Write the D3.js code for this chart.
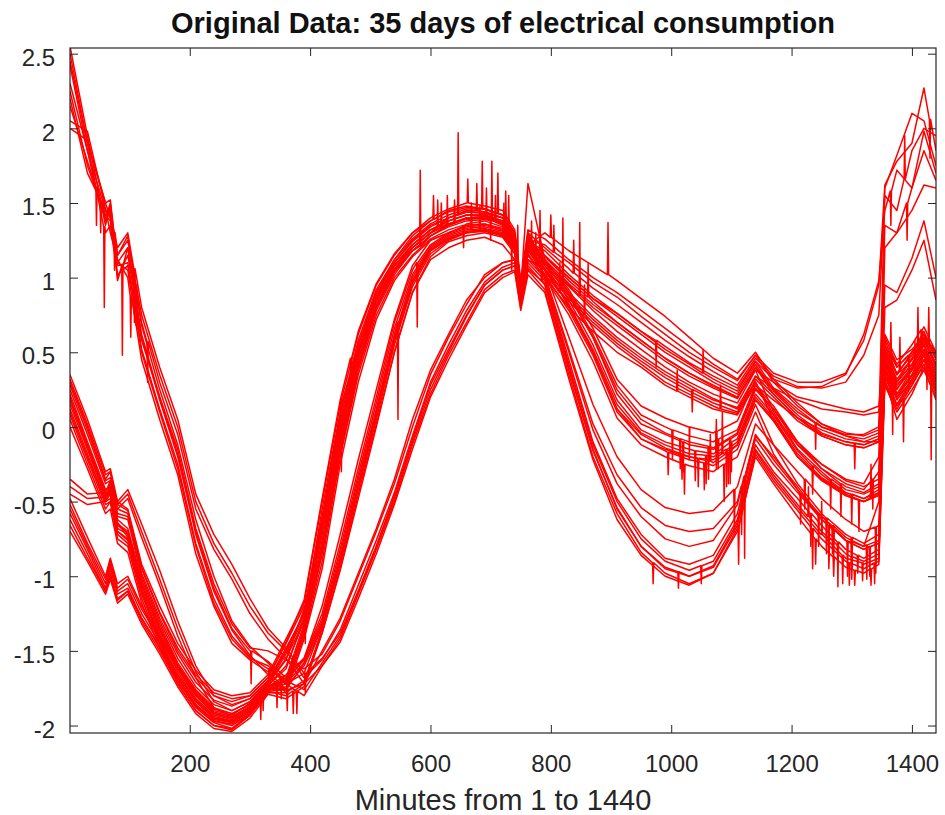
<!DOCTYPE html>
<html><head><meta charset="utf-8">
<script src="https://cdn.jsdelivr.net/npm/d3@7"></script>
<style>body{margin:0;background:#fff}svg{display:block}</style>
</head><body>
<svg id="chart" width="945" height="815"></svg>
<script>
const titleText = "Original Data: 35 days of electrical consumption";
const xLabelText = "Minutes from 1 to 1440";
const xTicks = [200, 400, 600, 800, 1000, 1200, 1400];
const yTicks = [-2, -1.5, -1, -0.5, 0, 0.5, 1, 1.5, 2, 2.5];
const yTickLabels = ["-2", "-1.5", "-1", "-0.5", "0", "0.5", "1", "1.5", "2", "2.5"];
const minutes = [1,30,60,68,80,97,120,150,180,210,240,270,300,330,360,390,420,450,480,510,540,570,600,630,660,690,720,740,750,762,790,830,870,910,950,990,1030,1070,1110,1140,1170,1210,1250,1290,1320,1345,1355,1375,1400,1420,1440];

const day01 = [2.42,1.85,1.38,1.45,1.0,1.15,0.6,0.18,-0.2,-0.7,-1.08,-1.35,-1.5,-1.57,-1.68, -1.55,-1.2,-0.72,-0.22,0.25,0.72,1.08,1.25,1.3,1.35,1.36,1.32,1.22,0.9,1.22, 1.1,0.88,0.6,0.22,0.02,-0.05,-0.12,-0.15,-0.05,0.25, 0.12,-0.1,-0.28,-0.38,-0.42,-0.3, 1.2,1.3,1.45,1.62,1.6];
const day02 = [2.25,1.75,1.42,1.38,1.08,1.1,0.52,0.12,-0.25,-0.78,-1.15,-1.4,-1.54,-1.62,-1.72, -1.65,-1.33,-0.9,-0.4,0.08,0.58,0.97,1.18,1.26,1.3,1.32,1.28,1.18,0.85,1.18, 1.05,0.82,0.5,0.12,-0.05,-0.14,-0.2,-0.22,-0.12,0.18, 0.05,-0.2,-0.35,-0.45,-0.5,-0.44, 0.45,0.22,0.38,0.52,0.3];
const day03 = [2.5,1.9,1.3,1.35,1.02,1.08,0.58,0.2,-0.18,-0.72,-1.1,-1.36,-1.53,-1.66,-1.78, -1.7,-1.38,-0.95,-0.45,0.02,0.5,0.9,1.12,1.2,1.25,1.27,1.22,1.12,0.82,1.12, 1.05,0.6,0.15,-0.2,-0.42,-0.54,-0.58,-0.56,-0.4,0.02, -0.12,-0.3,-0.48,-0.62,-0.7,-0.66, 0.35,0.15,0.3,0.45,0.25];
const day04 = [2.2,1.7,1.45,1.4,1.1,1.05,0.5,0.1,-0.28,-0.8,-1.18,-1.42,-1.55,-1.6,-1.7, -1.76,-1.58,-1.4,-1.1,-0.8,-0.48,-0.1,0.25,0.5,0.74,0.95,1.05,1.08,0.82,1.08, 0.95,0.38,-0.15,-0.55,-0.8,-0.94,-1.0,-0.94,-0.66,-0.15, -0.32,-0.52,-0.7,-0.85,-0.9,-0.85, 0.5,0.35,0.45,0.6,0.42];
const day05 = [2.55,1.95,1.35,1.48,0.98,1.2,0.62,0.2,-0.15,-0.68,-1.05,-1.32,-1.48,-1.5,-1.56, -1.62,-1.52,-1.3,-1.0,-0.7,-0.38,0.0,0.35,0.6,0.82,1.02,1.1,1.12,0.88,1.12, 1.0,0.45,-0.1,-0.48,-0.72,-0.88,-0.92,-0.86,-0.58,-0.08, -0.25,-0.44,-0.62,-0.76,-0.8,-0.5, 0.8,0.85,1.05,1.25,0.85];
const day06 = [2.0,1.92,1.5,1.52,1.15,1.28,0.68,0.25,-0.12,-0.62,-1.0,-1.3,-1.47,-1.58,-1.72, -1.8,-1.6,-1.42,-1.12,-0.82,-0.5,-0.12,0.22,0.48,0.7,0.92,1.02,1.05,0.8,1.05, 0.92,0.35,-0.2,-0.58,-0.84,-0.98,-1.05,-0.98,-0.68,-0.18, -0.36,-0.56,-0.75,-0.9,-0.95,-0.9, 0.28,0.1,0.25,0.38,0.2];
const day07 = [2.05,1.98,1.46,1.3,1.12,1.0,0.45,0.05,-0.32,-0.85,-1.2,-1.45,-1.56,-1.64,-1.76, -1.72,-1.5,-1.28,-0.98,-0.68,-0.35,0.05,0.38,0.62,0.85,1.0,1.1,1.12,0.9,1.15, 1.0,0.5,-0.02,-0.38,-0.6,-0.75,-0.8,-0.76,-0.52,-0.05, -0.22,-0.42,-0.6,-0.74,-0.8,-0.76, 0.55,0.4,0.5,0.62,0.48];
const day08 = [2.3,1.85,1.45,1.45,1.15,1.25,0.75,0.35,0.0,-0.5,-0.78,-0.98,-1.2,-1.38,-1.5, -1.68,-1.56,-1.36,-1.06,-0.76,-0.44,-0.06,0.3,0.55,0.78,0.97,1.07,1.1,0.86,1.1, 0.98,0.42,-0.12,-0.5,-0.75,-0.9,-0.96,-0.9,-0.62,-0.12, -0.3,-0.48,-0.66,-0.82,-0.88,-0.82, 0.4,0.2,0.35,0.5,0.3];
const day09 = [2.45,1.9,1.5,1.4,1.2,1.3,0.8,0.4,0.05,-0.45,-0.72,-0.92,-1.15,-1.35,-1.48, -1.65,-1.55,-1.38,-1.1,-0.8,-0.46,-0.08,0.28,0.52,0.75,0.95,1.05,1.08,0.84,1.06, 0.96,0.4,-0.16,-0.54,-0.8,-0.95,-1.0,-0.93,-0.64,-0.16, -0.34,-0.54,-0.72,-0.88,-0.92,-0.88, 0.32,0.05,0.22,0.4,0.18];
const day10 = [2.15,1.78,1.4,1.5,1.1,1.2,0.7,0.3,-0.05,-0.55,-0.82,-1.02,-1.25,-1.42,-1.55, -1.72,-1.6,-1.44,-1.15,-0.85,-0.52,-0.15,0.2,0.45,0.68,0.9,1.0,1.04,0.78,1.02, 0.9,0.32,-0.22,-0.62,-0.86,-1.0,-1.06,-0.98,-0.7,-0.2, -0.38,-0.6,-0.8,-0.94,-0.98,-0.92, 0.42,0.28,0.4,0.55,0.38];
const day11 = [0.18,-0.13,-0.45,-0.42,-0.65,-0.7,-1.05,-1.35,-1.6,-1.78,-1.9,-1.93,-1.85,-1.72,-1.55, -1.3,-0.72,-0.05,0.48,0.85,1.08,1.22,1.32,1.38,1.42,1.42,1.38,1.25,0.9,1.25, 1.22,1.1,0.97,0.87,0.74,0.62,0.5,0.4,0.31,0.48, 0.36,0.3,0.3,0.36,0.58,0.95, 1.62,1.78,1.9,2.27,1.85];
const day12 = [0.3,0.0,-0.35,-0.3,-0.55,-0.58,-0.95,-1.25,-1.5,-1.68,-1.8,-1.84,-1.8,-1.68,-1.45, -1.2,-0.55,0.1,0.58,0.92,1.12,1.28,1.38,1.45,1.48,1.46,1.42,1.3,0.95,1.3, 1.2,1.06,0.93,0.82,0.7,0.58,0.47,0.37,0.28,0.46, 0.34,0.27,0.26,0.3,0.48,0.75, 1.55,1.45,1.85,2.0,1.95];
const day13 = [0.1,-0.2,-0.5,-0.45,-0.7,-0.75,-1.1,-1.42,-1.66,-1.84,-1.95,-1.98,-1.9,-1.75,-1.7, -1.35,-0.8,-0.12,0.42,0.8,1.05,1.2,1.3,1.36,1.4,1.4,1.36,1.22,0.88,1.22, 1.14,1.0,0.86,0.76,0.64,0.54,0.43,0.34,0.26,0.44, 0.32,0.26,0.27,0.35,0.62,0.98, 1.45,1.72,1.6,1.98,1.7];
const day14 = [0.25,-0.05,-0.38,-0.36,-0.6,-0.62,-1.0,-1.3,-1.55,-1.74,-1.86,-1.9,-1.84,-1.71,-1.5, -1.25,-0.62,0.05,0.55,0.9,1.1,1.25,1.35,1.4,1.44,1.44,1.4,1.28,0.92,1.28, 1.1,0.94,0.78,0.64,0.52,0.4,0.3,0.22,0.16,0.38, 0.3,0.2,0.16,0.12,0.1,0.14, 0.6,0.42,0.55,0.67,0.5];
const day15 = [0.05,-0.25,-0.55,-0.5,-0.75,-0.8,-1.15,-1.45,-1.7,-1.88,-1.98,-2.02,-1.92,-1.76,-1.75, -1.4,-0.9,-0.2,0.35,0.75,1.0,1.15,1.26,1.32,1.36,1.38,1.34,1.2,0.86,1.2, 1.06,0.86,0.7,0.56,0.44,0.33,0.24,0.16,0.1,0.34, 0.26,0.18,0.12,0.1,0.08,0.1, 0.5,0.32,0.45,0.58,0.42];
const day16 = [0.22,-0.1,-0.42,-0.4,-0.62,-0.68,-1.02,-1.32,-1.58,-1.76,-1.88,-1.92,-1.86,-1.73,-1.62, -1.28,-0.68,0.0,0.5,0.86,1.08,1.2,1.3,1.36,1.4,1.4,1.36,1.24,0.88,1.24, 1.14,0.98,0.84,0.7,0.58,0.46,0.36,0.27,0.2,0.4, 0.25,0.1,0.0,-0.05,-0.05,0.0, 1.6,1.82,2.1,2.05,1.75];
const day17 = [0.35,0.05,-0.3,-0.28,-0.5,-0.55,-0.92,-1.2,-1.45,-1.63,-1.76,-1.8,-1.78,-1.66,-1.42, -1.18,-0.5,0.15,0.62,0.95,1.15,1.3,1.4,1.46,1.5,1.48,1.45,1.32,0.98,1.32, 1.26,1.12,1.0,0.9,0.78,0.66,0.54,0.42,0.32,0.48, 0.3,0.14,0.02,-0.06,-0.1,-0.1, 1.35,1.3,1.6,1.85,1.65];
const day18 = [0.15,-0.15,-0.48,-0.44,-0.68,-0.72,-1.08,-1.38,-1.62,-1.8,-1.92,-1.95,-1.88,-1.74,-1.68, -1.32,-0.76,-0.08,0.45,0.82,1.05,1.2,1.3,1.4,1.44,1.43,1.4,1.26,0.92,1.26, 1.15,1.0,0.86,0.74,0.62,0.5,0.4,0.3,0.22,0.42, 0.24,0.08,-0.04,-0.1,-0.12,-0.08, 0.38,0.18,0.32,0.48,0.28];
const day19 = [0.2,-0.12,-0.44,-0.46,-0.64,-0.74,-1.04,-1.34,-1.59,-1.77,-1.89,-1.92,-1.86,-1.72,-1.56, -1.22,-0.6,0.08,0.55,0.9,1.12,1.26,1.36,1.42,1.46,1.46,1.42,1.3,0.95,1.28, 1.05,0.88,0.72,0.58,0.46,0.35,0.26,0.18,0.13,0.34, 0.22,0.06,-0.06,-0.12,-0.14,-0.1, 0.42,0.25,0.4,0.55,0.35];
const day20 = [0.12,-0.18,-0.5,-0.48,-0.7,-0.76,-1.1,-1.4,-1.64,-1.83,-1.94,-1.97,-1.9,-1.76,-1.72, -1.38,-0.85,-0.18,0.38,0.78,1.02,1.18,1.28,1.34,1.38,1.39,1.35,1.22,0.88,1.22, 1.3,1.18,1.08,0.98,0.86,0.74,0.6,0.46,0.36,0.5, 0.32,0.16,0.02,-0.04,-0.06,-0.02, 0.55,0.35,0.5,0.62,0.45];
const day21 = [0.28,-0.02,-0.36,-0.34,-0.58,-0.6,-0.98,-1.28,-1.52,-1.71,-1.83,-1.87,-1.82,-1.7,-1.5, -1.24,-0.64,0.02,0.52,0.88,1.1,1.24,1.34,1.4,1.45,1.44,1.4,1.28,0.94,1.26, 1.0,0.8,0.64,0.5,0.4,0.28,0.2,0.12,0.08,0.28, 0.18,0.06,-0.02,-0.08,-0.1,-0.06, 0.3,0.12,0.28,0.42,0.22];
const day22 = [0.08,-0.22,-0.52,-0.5,-0.72,-0.78,-1.12,-1.43,-1.68,-1.86,-1.97,-2.0,-1.92,-1.77,-1.76, -1.34,-0.8,-0.1,0.42,0.8,1.04,1.18,1.28,1.35,1.4,1.4,1.36,1.24,0.9,1.24, 1.18,1.02,0.88,0.76,0.64,0.52,0.42,0.32,0.24,0.44, 0.26,0.12,0.0,-0.06,-0.08,-0.04, 0.48,0.3,0.42,0.58,0.4];
const day23 = [0.18,-0.14,-0.46,-0.43,-0.66,-0.71,-1.06,-1.36,-1.61,-1.79,-1.91,-1.94,-1.87,-1.73,-1.6, -1.3,-0.7,-0.02,0.5,0.86,1.08,1.22,1.32,1.38,1.42,1.41,1.38,1.25,0.92,1.63, 1.12,0.96,0.82,0.7,0.58,0.46,0.36,0.28,0.2,0.38, 0.1,-0.15,-0.3,-0.42,-0.45,-0.4, 0.35,0.2,0.3,0.45,0.32];
const day24 = [0.32,0.02,-0.32,-0.3,-0.52,-0.56,-0.94,-1.24,-1.48,-1.66,-1.78,-1.82,-1.8,-1.68,-1.44, -1.16,-0.48,0.18,0.64,0.96,1.16,1.3,1.38,1.44,1.47,1.46,1.42,1.3,0.96,1.3, 1.08,0.9,0.74,0.6,0.48,0.37,0.28,0.19,0.12,0.3, 0.05,-0.2,-0.35,-0.46,-0.5,-0.45, 0.45,0.28,0.38,0.52,0.36];
const day25 = [0.0,-0.28,-0.58,-0.55,-0.78,-0.84,-1.18,-1.48,-1.72,-1.9,-2.0,-2.03,-1.93,-1.78,-1.78, -1.42,-0.95,-0.25,0.3,0.72,0.98,1.14,1.25,1.3,1.35,1.36,1.33,1.2,0.86,1.2, 1.02,0.84,0.68,0.54,0.42,0.3,0.22,0.14,0.09,0.3, 0.08,-0.12,-0.25,-0.35,-0.38,-0.2, 0.95,0.9,1.13,1.38,1.0];
const day26 = [-0.4,-0.48,-0.47,-0.38,-0.52,-0.45,-0.7,-1.02,-1.35,-1.64,-1.84,-1.9,-1.84,-1.72,-1.52, -1.28,-0.7,-0.04,0.47,0.84,1.06,1.2,1.3,1.36,1.4,1.41,1.37,1.24,0.9,1.24, 1.1,0.95,0.8,0.68,0.56,0.44,0.34,0.26,0.19,0.4, 0.22,0.06,-0.05,-0.1,-0.12,-0.08, 0.62,0.45,0.52,0.6,0.5];
const day27 = [-0.35,-0.45,-0.44,-0.36,-0.5,-0.42,-0.65,-0.96,-1.3,-1.6,-1.8,-1.86,-1.82,-1.7,-1.48, -1.26,-0.66,0.0,0.5,0.86,1.08,1.22,1.32,1.38,1.42,1.42,1.38,1.26,0.92,1.25, 1.12,0.9,0.62,0.28,0.08,0.0,-0.06,-0.1,-0.02,0.28, 0.14,-0.1,-0.25,-0.36,-0.4,-0.35, 0.4,0.22,0.35,0.5,0.3];
const day28 = [-0.45,-0.52,-0.5,-0.4,-0.55,-0.48,-0.74,-1.06,-1.4,-1.68,-1.88,-1.94,-1.88,-1.74,-1.7, -1.36,-0.84,-0.15,0.4,0.8,1.04,1.18,1.28,1.35,1.39,1.4,1.36,1.22,0.88,1.22, 1.05,0.8,0.5,0.12,-0.08,-0.16,-0.22,-0.26,-0.15,0.15, -0.12,-0.38,-0.58,-0.72,-0.78,-0.72, 0.3,0.15,0.32,0.45,0.35];
const day29 = [-0.55,-0.8,-1.05,-0.92,-1.1,-1.05,-1.25,-1.45,-1.66,-1.84,-1.95,-1.97,-1.9,-1.75,-1.72, -1.58,-1.3,-0.85,-0.35,0.12,0.62,1.0,1.2,1.28,1.32,1.33,1.3,1.2,0.88,1.2, 1.08,0.85,0.55,0.18,-0.02,-0.1,-0.15,-0.18,-0.08,0.22, 0.08,-0.16,-0.32,-0.44,-0.48,-0.42, 0.5,0.3,0.46,0.6,0.4];
const day30 = [-0.62,-0.85,-1.1,-0.98,-1.15,-1.1,-1.3,-1.5,-1.72,-1.9,-2.0,-2.02,-1.93,-1.77,-1.8, -1.72,-1.35,-0.92,-0.42,0.05,0.55,0.94,1.16,1.25,1.3,1.31,1.28,1.18,0.86,1.18, 1.02,0.78,0.48,0.1,-0.08,-0.15,-0.2,-0.24,-0.12,0.18, 0.04,-0.2,-0.36,-0.46,-0.5,-0.46, 0.38,0.2,0.34,0.48,0.26];
const day31 = [-0.48,-0.74,-1.0,-0.88,-1.05,-1.0,-1.2,-1.4,-1.6,-1.8,-1.92,-1.95,-1.88,-1.74,-1.66, -1.55,-1.25,-0.78,-0.28,0.2,0.7,1.05,1.22,1.3,1.34,1.35,1.32,1.22,0.9,1.22, 1.1,0.88,0.6,0.25,0.05,-0.04,-0.1,-0.14,-0.04,0.26, 0.12,-0.12,-0.28,-0.4,-0.44,-0.38, 0.58,0.4,0.5,0.64,0.46];
const day32 = [-0.7,-0.9,-1.12,-1.02,-1.18,-1.12,-1.32,-1.52,-1.74,-1.92,-2.02,-2.04,-1.95,-1.79,-1.82, -1.74,-1.38,-0.96,-0.48,0.0,0.5,0.9,1.14,1.24,1.28,1.3,1.27,1.16,0.84,1.16, 1.0,0.75,0.44,0.06,-0.12,-0.2,-0.26,-0.3,-0.2,0.1, -0.18,-0.42,-0.62,-0.76,-0.82,-0.78, 0.34,0.14,0.28,0.42,0.24];
const day33 = [-0.58,-0.82,-1.08,-0.95,-1.12,-1.08,-1.28,-1.47,-1.68,-1.86,-1.96,-1.98,-1.91,-1.76,-1.74, -1.6,-1.34,-0.9,-0.4,0.08,0.58,0.96,1.18,1.26,1.3,1.32,1.29,1.19,0.87,1.19, 1.02,0.52,0.02,-0.32,-0.54,-0.66,-0.7,-0.68,-0.5,-0.06, -0.2,-0.4,-0.6,-0.76,-0.82,-0.78, 0.46,0.3,0.42,0.56,0.34];
const day34 = [-0.66,-0.88,-1.1,-1.0,-1.16,-1.1,-1.28,-1.48,-1.7,-1.87,-1.97,-1.99,-1.92,-1.76,-1.7, -1.56,-1.28,-0.82,-0.32,0.16,0.66,1.02,1.21,1.29,1.33,1.34,1.31,1.21,0.89,1.21, 1.12,0.92,0.66,0.32,0.14,0.06,0.0,-0.04,0.04,0.32, 0.2,0.04,-0.06,-0.12,-0.14,-0.1, 0.44,0.26,0.38,0.52,0.32];
const day35 = [-0.52,-0.78,-1.02,-0.9,-1.08,-1.02,-1.22,-1.42,-1.62,-1.82,-1.93,-1.96,-1.89,-1.75,-1.76, -1.58,-1.32,-0.88,-0.38,0.1,0.6,0.98,1.19,1.27,1.31,1.32,1.29,1.19,0.87,1.19, 1.06,0.82,0.52,0.15,-0.04,-0.12,-0.18,-0.2,-0.1,0.2, 0.06,-0.18,-0.34,-0.44,-0.48,-0.44, 0.52,0.36,0.48,0.6,0.42];

const days = [day01,day02,day03,day04,day05,day06,day07,day08,day09,day10,day11,day12,day13,day14,day15,day16,day17,day18,day19,day20,day21,day22,day23,day24,day25,day26,day27,day28,day29,day30,day31,day32,day33,day34,day35];

// short one-minute spikes: [day number, minute, level around it, spike value]
const spikes = [
  [1,45,1.6,1.35],[2,52,1.51,1.3],[3,58,1.34,0.8],[6,75,1.3,1.05],[5,88,1.08,0.48],[7,102,0.88,0.6],[9,108,1.06,0.7],[4,112,0.68,0.95],[10,130,0.57,0.3],
  [1,302,-1.5,-1.72],[13,318,-1.81,-1.96],[26,322,-1.75,-1.9],[2,332,-1.62,-1.78],[3,345,-1.72,-1.88],[4,352,-1.67,-1.82],[7,362,-1.76,-1.9],[30,372,-1.77,-1.92],[6,378,-1.77,-1.92],
  [12,392,-1.2,-1.45],[9,392,-1.65,-1.78],[16,452,0.17,-0.3],[24,468,0.46,0.2],
  [29,546,0.7,0.05],[31,578,1.1,0.67],[22,583,1.21,1.72],[12,605,1.39,1.55],[11,612,1.34,1.52],[16,618,1.33,1.5],[13,628,1.36,1.55],
  [26,640,1.37,1.52],[18,646,1.42,1.97],[15,655,1.35,1.2],[17,662,1.5,1.66],[29,668,1.32,1.5],[21,677,1.45,1.63],[33,682,1.31,1.48],[19,686,1.46,1.78],[23,693,1.41,1.6],
  [14,700,1.43,1.25],[20,702,1.38,1.78],[13,708,1.38,1.55],[24,712,1.43,1.7],[25,722,1.32,1.5],[19,725,1.39,1.58],[22,730,1.3,1.55],[27,735,1.29,1.05],[11,745,1.08,1.35],
  [35,768,1.16,1.38],[3,775,1.09,1.3],[18,782,1.18,1.45],[9,785,0.98,1.22],[20,800,1.27,1.42],[11,805,1.17,1.35],[28,815,0.9,1.1],[24,820,0.95,1.4],[12,838,1.03,1.25],
  [26,848,0.88,1.37],[34,856,0.75,0.95],[16,862,0.87,1.1],[20,895,1.02,1.37],
  [6,970,-0.91,-1.05],[13,975,0.58,0.4],[28,995,-0.17,-0.32],[27,1002,-0.02,-0.22],[21,1010,0.24,0.38],[4,1012,-0.97,-1.08],[31,1015,-0.08,-0.28],[30,1018,-0.19,-0.35],
  [1,1020,-0.1,-0.3],[32,1022,-0.25,-0.45],[34,1030,0.0,-0.22],[19,1035,0.25,0.1],
  [29,1040,-0.16,-0.36],[2,1045,-0.21,-0.4],[8,1050,-0.93,-1.05],[22,1053,0.36,0.52],[28,1055,-0.24,-0.42],[35,1058,-0.19,-0.38],[31,1062,-0.13,-0.35],[30,1065,-0.23,-0.05],
  [34,1075,-0.03,-0.28],[29,1075,-0.17,0.05],[27,1078,-0.08,-0.28],
  [25,1082,0.12,0.28],[2,1085,-0.18,0.1],[32,1088,-0.25,-0.5],[35,1092,-0.15,-0.4],[30,1095,-0.17,-0.38],[1,1098,-0.08,-0.38],[29,1100,-0.1,-0.3],[3,1105,-0.42,-0.7],[6,1112,-0.66,-0.92],
  [33,1117,-0.4,-0.72],[7,1122,-0.33,-0.88],
  [32,1215,-0.45,-0.65],[3,1222,-0.35,-0.55],[4,1228,-0.6,-0.4],[8,1232,-0.58,-0.8],[6,1235,-0.68,-0.95],[29,1235,-0.26,-0.45],[10,1240,-0.75,-0.92],[22,1240,0.03,-0.15],[33,1245,-0.58,-0.8],
  [9,1250,-0.72,-0.5],[28,1258,-0.61,-0.85],[5,1262,-0.66,-0.9],[4,1262,-0.74,-0.95],[23,1265,-0.35,-0.55],[7,1268,-0.66,-0.85],
  [10,1270,-0.87,-1.0],[32,1270,-0.69,-0.9],[8,1277,-0.77,-1.07],[31,1282,-0.38,-0.6],[9,1285,-0.86,-1.05],[33,1293,-0.77,-1.0],[6,1296,-0.91,-1.06],[4,1300,-0.87,-1.02],[35,1300,-0.45,-0.65],
  [5,1300,-0.77,-0.95],[28,1300,-0.74,-0.95],[10,1305,-0.96,-1.06],
  [18,1305,-0.11,-0.28],[8,1310,-0.86,-0.98],[30,1312,-0.49,-0.7],[9,1318,-0.91,-1.03],[7,1325,-0.79,-1.02],[32,1330,-0.8,-1.0],[10,1332,-0.95,-1.06],[24,1332,-0.48,-0.25],[1,1335,-0.35,-0.55],
  [6,1338,-0.91,-1.05],[3,1340,-0.67,-0.92],[7,1340,-0.77,-0.98],
  [13,1365,1.58,1.35],[20,1365,0.45,0.7],[31,1365,0.49,0.2],[2,1368,0.3,-0.05],[4,1380,0.37,0.6],[21,1386,0.19,-0.1],[12,1388,1.66,1.95],[17,1392,1.5,1.25],[7,1395,0.48,0.25],
  [30,1405,0.37,0.58],[35,1410,0.54,0.8],[14,1416,0.65,0.35],[19,1425,0.5,0.25],[26,1428,0.56,0.8],[11,1430,2.06,1.8],[28,1432,0.39,-0.22]
];

const W = 945, H = 815;
const svg = d3.select("#chart");
const x = d3.scaleLinear().domain([1, 1440]).range([70, 936]);
const y = d3.scaleLinear().domain([-2.05, 2.538]).range([733, 48]);
const font = "'Liberation Sans', Arial, Helvetica, sans-serif";
const axisColor = "#262626";

svg.append("rect").attr("width", W).attr("height", H).attr("fill", "#fff");

svg.append("clipPath").attr("id", "plotclip").append("rect")
  .attr("x", x(1)).attr("y", y(2.538)).attr("width", x(1440) - x(1)).attr("height", y(-2.05) - y(2.538));

const seriesPts = days.map((vals, i) => {
  const pts = minutes.map((m, j) => [m, vals[j]]);
  spikes.filter(s => s[0] === i + 1).forEach(s => {
    pts.push([s[1] - 1, s[2]], [s[1], s[3]], [s[1] + 1, s[2]]);
  });
  pts.sort((a, b) => a[0] - b[0]);
  return pts;
});

const line = d3.line().x(d => x(d[0])).y(d => y(d[1]));
svg.append("g").attr("clip-path", "url(#plotclip)")
  .selectAll("path").data(seriesPts).join("path")
  .attr("d", line).attr("fill", "none").attr("stroke", "#ff0000")
  .attr("stroke-width", 1.5).attr("stroke-linejoin", "round");

function styleAxis(g) {
  g.select(".domain").remove();
  g.selectAll(".tick line").attr("stroke", axisColor).attr("stroke-width", 1);
  g.selectAll(".tick text").attr("fill", axisColor).style("font-family", font).style("font-size", "24px");
}

svg.append("g").attr("transform", `translate(0,${y(-2.05)})`)
  .call(d3.axisBottom(x).tickValues(xTicks).tickSizeInner(-8).tickSizeOuter(0).tickPadding(22).tickFormat(d3.format("d")))
  .call(styleAxis);
svg.append("g").attr("transform", `translate(0,${y(2.538)})`)
  .call(d3.axisTop(x).tickValues(xTicks).tickSizeInner(-8).tickSizeOuter(0).tickFormat(""))
  .call(styleAxis);
svg.append("g").attr("transform", `translate(${x(1)},0)`)
  .call(d3.axisLeft(y).tickValues(yTicks).tickSizeInner(-8).tickSizeOuter(0).tickPadding(15)
    .tickFormat((d, i) => yTickLabels[i]))
  .call(styleAxis)
  .call(g => g.selectAll(".tick text").attr("transform", "translate(0,4)"));
svg.append("g").attr("transform", `translate(${x(1440)},0)`)
  .call(d3.axisRight(y).tickValues(yTicks).tickSizeInner(-8).tickSizeOuter(0).tickFormat(""))
  .call(styleAxis);

svg.append("rect").attr("x", x(1)).attr("y", y(2.538))
  .attr("width", x(1440) - x(1)).attr("height", y(-2.05) - y(2.538))
  .attr("fill", "none").attr("stroke", axisColor).attr("stroke-width", 1.2);

svg.append("text").attr("x", (x(1) + x(1440)) / 2).attr("y", 33)
  .attr("text-anchor", "middle").style("font-family", font).style("font-size", "29px")
  .style("font-weight", "bold").attr("fill", "#111").text(titleText);

svg.append("text").attr("x", (x(1) + x(1440)) / 2).attr("y", 810)
  .attr("text-anchor", "middle").style("font-family", font).style("font-size", "29px")
  .attr("fill", axisColor).text(xLabelText);
</script>
</body></html>
